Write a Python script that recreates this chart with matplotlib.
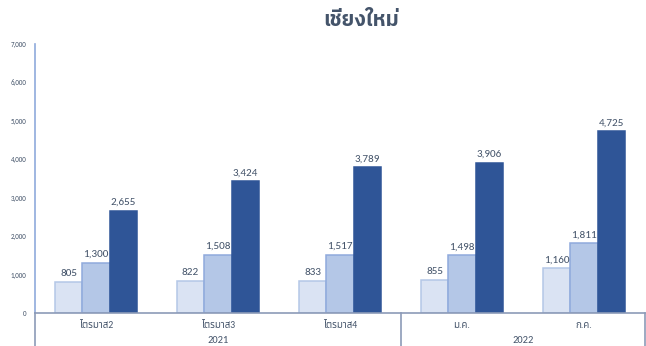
import matplotlib
matplotlib.use("Agg")
import matplotlib.pyplot as plt
from matplotlib.ticker import FuncFormatter, MultipleLocator

plt.rcParams['font.family'] = ['Carlito', 'Noto Sans Thai', 'DejaVu Sans']

title = "เชียงใหม่"
categories = ["ไตรมาส2", "ไตรมาส3", "ไตรมาส4", "ม.ค.", "ก.ค."]
years = ["2021", "2022"]
year_spans = [3, 2]  # number of categories under each year
series_a = [805, 822, 833, 855, 1160]
series_b = [1300, 1508, 1517, 1498, 1811]
series_c = [2655, 3424, 3789, 3906, 4725]

fills = ["#DAE3F3", "#B4C7E7", "#2F5597"]
edges = ["#B4C7E7", "#8FAADC", "#2F5597"]
label_color = "#44546A"
axis_color = "#8C9BB8"

W, H = 646, 346
fig = plt.figure(figsize=(W / 100, H / 100), dpi=100)
left, right, bottom, top = 35, 645, 313, 44
ax = fig.add_axes([left / W, (H - bottom) / H, (right - left) / W, (bottom - top) / H])

x = list(range(len(categories)))
bw = 0.225
for i, (vals, fc, ec) in enumerate(zip([series_a, series_b, series_c], fills, edges)):
    pos = [xi + (i - 1) * bw for xi in x]
    bars = ax.bar(pos, vals, width=bw, color=fc, edgecolor=ec, linewidth=1.1, zorder=2)
    ax.bar_label(bars, labels=[f"{v:,}" for v in vals], padding=3,
                 fontsize=8, color=label_color)

ax.set_xlim(-0.5, len(categories) - 0.5)
ax.set_ylim(0, 7000)
ax.yaxis.set_major_locator(MultipleLocator(1000))
ax.yaxis.set_major_formatter(FuncFormatter(lambda v, p: f"{int(v):,}"))
ax.tick_params(axis='y', length=0, labelsize=5, labelcolor=label_color, pad=6)
ax.set_xticks([])

for s in ["top", "right"]:
    ax.spines[s].set_visible(False)
ax.spines["left"].set_color("#8FAADC")
ax.spines["left"].set_linewidth(1.2)
ax.spines["bottom"].set_color(axis_color)
ax.spines["bottom"].set_linewidth(1.2)

# two-level category axis below the plot
trans = ax.get_xaxis_transform()
for xi, c in zip(x, categories):
    ax.text(xi, -0.047, c, transform=trans, ha="center", va="center",
            fontsize=7, color=label_color)
start = 0
bounds = [-0.5]
for yr, n in zip(years, year_spans):
    centre = start + (n - 1) / 2
    ax.text(centre, -0.104, yr, transform=trans, ha="center", va="center",
            fontsize=7.5, color=label_color)
    start += n
    bounds.append(start - 0.5)
for b in bounds:
    ax.plot([b, b], [0, -0.2], transform=trans, color=axis_color, lw=1.2,
            clip_on=False, zorder=3)

fig.text(361 / W, 1 - 21 / H, title, ha="center", va="center",
         fontsize=15, fontweight="bold", color=label_color,
         family=["IBM Plex Sans Thai", "Noto Sans Thai"])

fig.savefig("out.png", dpi=100)
